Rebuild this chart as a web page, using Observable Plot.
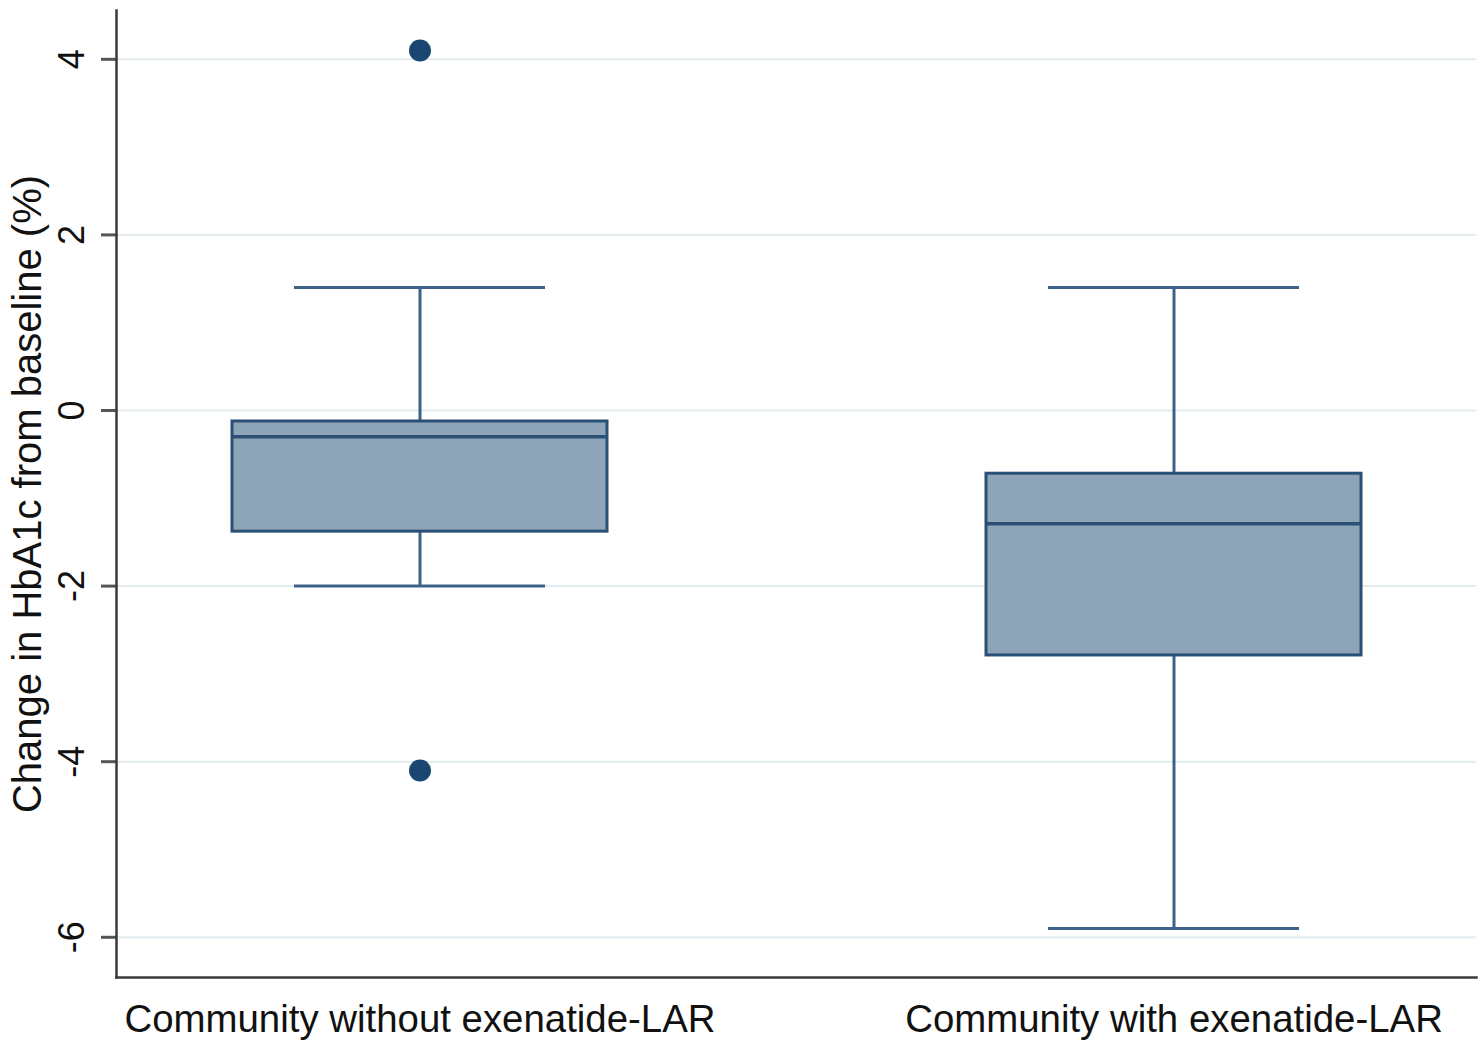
<!DOCTYPE html>
<html>
<head>
<meta charset="utf-8">
<script src="https://cdn.jsdelivr.net/npm/d3@7"></script>
<script src="https://cdn.jsdelivr.net/npm/@observablehq/plot@0.6"></script>
<style>
  html, body { margin: 0; padding: 0; background: #fff; }
  #chart { width: 1479px; height: 1044px; overflow: hidden; }
</style>
</head>
<body>
<div id="chart"></div>
<script>
// Data
const groups = ["Community without exenatide-LAR", "Community with exenatide-LAR"];
const lowerWhisker = [-2.0, -5.9];
const q1 = [-1.38, -2.79];
const median = [-0.30, -1.29];
const q3 = [-0.125, -0.72];
const upperWhisker = [1.40, 1.40];
const outlierGroup = [groups[0], groups[0]];
const outlierValue = [4.1, -4.1];
const yTicks = [-6, -4, -2, 0, 2, 4];
const yLabel = "Change in HbA1c from baseline (%)";

const boxes = groups.map((g, i) => ({group: g, lo: lowerWhisker[i], q1: q1[i], med: median[i], q3: q3[i], hi: upperWhisker[i]}));
const outliers = outlierGroup.map((g, i) => ({group: g, value: outlierValue[i]}));

const font = "'Liberation Sans', Arial, sans-serif";
const boxStroke = "#2b5075";
const whisker = "#3d628a";

const chart = Plot.plot({
  width: 1479,
  height: 1044,
  marginLeft: 116,
  marginRight: 3,
  marginTop: 10,
  marginBottom: 67,
  style: {fontFamily: font, background: "#fff"},
  x: {type: "band", domain: groups, paddingInner: 0.503, paddingOuter: 0.153, align: 0.5, axis: null},
  y: {domain: [-6.458, 4.556], axis: null},
  marks: [
    Plot.gridY(yTicks, {stroke: "#e3edf0", strokeOpacity: 1, strokeWidth: 2}),
    Plot.axisY({ticks: yTicks, tickSize: 15, tickFormat: () => "", stroke: "#555", strokeWidth: 3, label: null}),
    Plot.text(yTicks, {y: d => d, text: d => String(d), frameAnchor: "left", dx: -44, rotate: -90,
      fontSize: 36, textAnchor: "middle", lineAnchor: "middle", fill: "#111"}),
    Plot.text([yLabel], {frameAnchor: "left", dx: -88, rotate: -90, fontSize: 40,
      textAnchor: "middle", lineAnchor: "middle", fill: "#111"}),
    Plot.axisX({tickSize: 0, tickPadding: 27, fontSize: 38.4, label: null, fill: "#111"}),
    Plot.ruleX(boxes, {x: "group", y1: "q3", y2: "hi", stroke: whisker, strokeWidth: 3}),
    Plot.ruleX(boxes, {x: "group", y1: "q1", y2: "lo", stroke: whisker, strokeWidth: 3}),
    Plot.tickY(boxes, {x: "group", y: "hi", stroke: whisker, strokeWidth: 3, insetLeft: 62, insetRight: 62}),
    Plot.tickY(boxes, {x: "group", y: "lo", stroke: whisker, strokeWidth: 3, insetLeft: 62, insetRight: 62}),
    Plot.barY(boxes, {x: "group", y1: "q1", y2: "q3", fill: "#8ea4b8", stroke: boxStroke, strokeWidth: 3}),
    Plot.tickY(boxes, {x: "group", y: "med", stroke: boxStroke, strokeWidth: 3.5}),
    Plot.dot(outliers, {x: "group", y: "value", r: 11, fill: "#1a4771", stroke: "none"}),
    Plot.frame({anchor: "left", stroke: "#3a3a3a", strokeWidth: 2.5}),
    Plot.frame({anchor: "bottom", stroke: "#3a3a3a", strokeWidth: 2.5})
  ]
});
document.getElementById("chart").appendChild(chart);
</script>
</body>
</html>
